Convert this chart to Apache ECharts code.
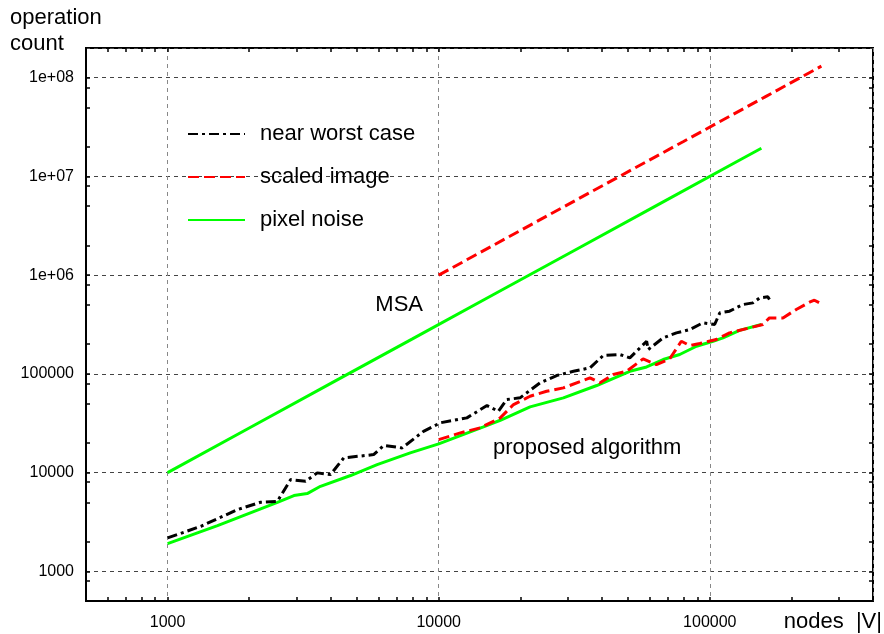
<!DOCTYPE html>
<html>
<head>
<meta charset="utf-8" />
<title>operation count</title>
<style>
  html, body { margin: 0; padding: 0; background: #fff; }
  #chart { width: 884px; height: 634px; }
</style>
</head>
<body>
<div id="chart"></div>
<script src="https://cdn.jsdelivr.net/npm/echarts@6/dist/echarts.min.js"></script>
<script>
const xTickValues = [1000, 10000, 100000];
const xTickLabels = ['1000', '10000', '100000'];
const yTickValues = [1000, 10000, 100000, 1e6, 1e7, 1e8];
const yTickLabels = ['1000', '10000', '100000', '1e+06', '1e+07', '1e+08'];
const xSmallTicks = [600, 700, 800, 900, 1000, 2000, 3000, 4000, 5000, 6000, 7000, 8000, 9000,
  10000, 20000, 30000, 40000, 50000, 60000, 70000, 80000, 90000, 100000, 200000, 300000];
const ySmallTicks = [800, 1000, 2000, 5000, 8000, 10000, 20000, 50000, 80000, 100000, 200000, 500000,
  800000, 1e6, 2e6, 5e6, 8e6, 1e7, 2e7, 5e7, 8e7, 1e8];

// MSA
const msaNoise = [[1000, 10000], [2000, 28300], [4000, 80000], [8000, 226000], [16000, 640000],
  [32000, 1810000], [64000, 5120000], [128000, 14500000], [155000, 19300000]];
const msaScaled = [[10000, 1000000], [20000, 2830000], [40000, 8000000], [80000, 22600000],
  [160000, 64000000], [258000, 131000000]];

// proposed algorithm
const propNoise = [[1000, 1905], [1528, 2904], [2541, 5000], [2924, 5848], [3273, 6124], [3664, 7261],
  [4732, 9333], [5929, 12050], [7852, 15850], [10000, 19540], [14620, 29040], [16870, 33880],
  [21730, 46340], [28840, 57150], [38280, 76210], [50700, 106200], [58480, 117500], [67300, 139600],
  [77450, 157000], [89330, 190500], [102800, 213800], [111900, 231700], [128800, 275400], [154900, 316200]];
const propScaled = [[10000, 21580], [12020, 25230], [14220, 28380], [16870, 35810], [18880, 48870],
  [21730, 59290], [25000, 66680], [28840, 72110], [36140, 91200], [39360, 81100], [44060, 98400],
  [49320, 106200], [56750, 141900], [63530, 124200], [71120, 141900], [78520, 213800], [84330, 193600],
  [91830, 202800], [105700, 222800], [118300, 260000], [140300, 292400], [157000, 316200],
  [166000, 368900], [186200, 368900], [208400, 448700], [233300, 532100], [243200, 557200], [257000, 515200]];
const propWorst = [[1000, 2178], [1327, 2858], [1811, 4217], [2203, 5000], [2541, 5117], [2844, 8492],
  [3228, 8166], [3565, 9931], [3990, 9550], [4467, 14090], [5754, 15210], [6266, 18790], [7328, 17780],
  [8790, 26180], [10140, 31920], [12710, 35810], [15070, 47750], [16600, 41780], [17820, 54950],
  [19950, 57150], [23660, 81100], [27230, 96160], [31410, 106200], [36140, 115100], [40460, 153500],
  [46560, 157000], [50700, 145200], [58480, 213800], [59290, 176200], [67300, 231700], [75340, 260000],
  [84330, 281200], [94410, 328900], [104200, 316200], [108900, 415000], [118300, 431500],
  [132400, 503500], [144200, 523600], [152800, 588800], [163700, 602600], [166000, 566200]];

const FONT = 'Liberation Sans, Arial, Helvetica, sans-serif';

function pick(values, labels) {
  return function (v) {
    for (let i = 0; i < values.length; i++) {
      if (Math.abs(v - values[i]) / values[i] < 1e-6) return labels[i];
    }
    return '';
  };
}

function tickAxis(position, ticks, min, max) {
  return {
    type: 'log', position: position, min: min, max: max,
    axisLine: { show: false },
    axisLabel: { show: false },
    splitLine: { show: false },
    axisTick: { show: true, inside: true, length: 4, customValues: ticks, lineStyle: { color: '#000', width: 1.5 } }
  };
}

const chart = echarts.init(document.getElementById('chart'));
chart.setOption({
  animation: false,
  backgroundColor: '#fff',
  grid: { left: 86, right: 11, top: 48, bottom: 33, show: true, borderColor: '#000', borderWidth: 2, backgroundColor: 'transparent' },
  legend: {
    orient: 'vertical', left: 187, top: 120, padding: 0,
    itemWidth: 57, itemHeight: 28, itemGap: 15,
    itemStyle: { opacity: 0 },
    textStyle: { fontSize: 22, fontFamily: FONT, color: '#000', lineHeight: 22, padding: [0, 0, 6, 10] },
    data: ['near worst case', 'scaled image', 'pixel noise']
  },
  xAxis: [
    {
      type: 'log', position: 'bottom', min: 500, max: 400000,
      axisLine: { show: true, lineStyle: { color: '#000', width: 2 } },
      axisTick: { show: false },
      axisLabel: { customValues: xTickValues, formatter: pick(xTickValues, xTickLabels), margin: 14, fontSize: 16, fontFamily: FONT, color: '#000' },
      splitLine: { show: true, lineStyle: { color: '#888', type: [4, 4], width: 1 } }
    },
    tickAxis('bottom', xSmallTicks, 500, 400000),
    tickAxis('top', xSmallTicks, 500, 400000)
  ],
  yAxis: [
    {
      type: 'log', position: 'left', min: 500, max: 2e8,
      axisLine: { show: true, lineStyle: { color: '#000', width: 2 } },
      axisTick: { show: false },
      axisLabel: { customValues: yTickValues, formatter: pick(yTickValues, yTickLabels), margin: 12, fontSize: 16, fontFamily: FONT, color: '#000' },
      splitLine: { show: true, lineStyle: { color: '#444', type: [4, 4], width: 1 } }
    },
    tickAxis('left', ySmallTicks, 500, 2e8),
    tickAxis('right', ySmallTicks, 500, 2e8)
  ],
  graphic: [
    { type: 'text', x: 10, y: 17.5, style: { text: 'operation', fontSize: 22, fontFamily: FONT, fill: '#000', align: 'left', verticalAlign: 'middle', textAlign: 'left', textVerticalAlign: 'middle' } },
    { type: 'text', x: 10, y: 44, style: { text: 'count', fontSize: 22, fontFamily: FONT, fill: '#000', align: 'left', verticalAlign: 'middle', textAlign: 'left', textVerticalAlign: 'middle' } },
    { type: 'text', x: 882, y: 621.5, style: { text: 'nodes  |V|', fontSize: 22, fontFamily: FONT, fill: '#000', align: 'right', verticalAlign: 'middle', textAlign: 'right', textVerticalAlign: 'middle' } },
    { type: 'text', x: 423, y: 304.5, style: { text: 'MSA', fontSize: 22, fontFamily: FONT, fill: '#000', align: 'right', verticalAlign: 'middle', textAlign: 'right', textVerticalAlign: 'middle' } },
    { type: 'text', x: 493, y: 447.5, style: { text: 'proposed algorithm', fontSize: 22, fontFamily: FONT, fill: '#000', align: 'left', verticalAlign: 'middle', textAlign: 'left', textVerticalAlign: 'middle' } }
  ],
  series: [
    { name: 'pixel noise', type: 'line', data: msaNoise, symbol: 'none', lineStyle: { color: '#00ff00', width: 3, type: 'solid' }, itemStyle: { color: '#00ff00' } },
    { name: 'scaled image', type: 'line', data: msaScaled, symbol: 'none', lineStyle: { color: '#ff0000', width: 3, type: [11, 5] }, itemStyle: { color: '#ff0000' } },
    { name: 'pixel noise', type: 'line', data: propNoise, symbol: 'none', lineStyle: { color: '#00ff00', width: 3, type: 'solid' }, itemStyle: { color: '#00ff00' } },
    { name: 'scaled image', type: 'line', data: propScaled, symbol: 'none', lineStyle: { color: '#ff0000', width: 3, type: [11, 5] }, itemStyle: { color: '#ff0000' } },
    { name: 'near worst case', type: 'line', data: propWorst, symbol: 'none', lineStyle: { color: '#000', width: 3, type: [10, 4, 3, 4] }, itemStyle: { color: '#000' } }
  ]
});
</script>
</body>
</html>
